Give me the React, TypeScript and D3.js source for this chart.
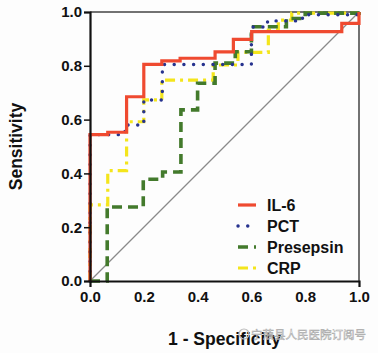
import React, { useEffect, useRef } from "react";
import * as d3 from "d3";

// ROC corner points (1 - specificity, sensitivity)
const il6Fpr = [0, 0, 0.066, 0.136, 0.2, 0.267, 0.335, 0.465, 0.533, 0.601, 0.936, 1.0];
const il6Tpr = [0, 0.544, 0.553, 0.685, 0.805, 0.818, 0.828, 0.852, 0.898, 0.927, 0.958, 1.0];

const pctFpr = [0, 0, 0.13, 0.2, 0.269, 0.6, 0.66, 0.79, 1.0];
const pctTpr = [0, 0.544, 0.58, 0.673, 0.805, 0.944, 0.967, 0.99, 1.0];

const presepsinFpr = [0, 0.064, 0.198, 0.27, 0.338, 0.4, 0.465, 0.54, 0.6, 0.73, 0.8, 1.0];
const presepsinTpr = [0, 0.275, 0.378, 0.405, 0.636, 0.735, 0.81, 0.852, 0.945, 0.976, 0.996, 1.0];

const crpFpr = [0, 0, 0.066, 0.136, 0.2, 0.267, 0.458, 0.55, 0.663, 0.7, 0.75, 1.0];
const crpTpr = [0, 0.283, 0.41, 0.592, 0.673, 0.747, 0.803, 0.85, 0.933, 0.97, 0.996, 1.0];

const seriesNames = ["IL-6", "PCT", "Presepsin", "CRP"];
const tickValues = [0, 0.2, 0.4, 0.6, 0.8, 1.0];

export default function App() {
  const svgRef = useRef<SVGSVGElement>(null);

  useEffect(() => {
    const width = 378;
    const height = 353;
    const margin = { top: 12, right: 19, bottom: 72, left: 90 };
    const font = "Arial, 'Liberation Sans', sans-serif";

    const svg = d3.select(svgRef.current).attr("width", width).attr("height", height);
    svg.selectAll("*").remove();
    svg.append("rect").attr("width", width).attr("height", height).attr("fill", "#fdfdfd");

    const x = d3.scaleLinear().domain([0, 1]).range([margin.left, width - margin.right]);
    const y = d3.scaleLinear().domain([0, 1]).range([height - margin.bottom, margin.top]);

    // top and right frame
    svg
      .append("path")
      .attr("d", `M${x(0)},${y(1)}H${x(1)}V${y(0)}`)
      .attr("fill", "none")
      .attr("stroke", "#444")
      .attr("stroke-width", 1.5);

    // reference diagonal
    svg
      .append("line")
      .attr("x1", x(0))
      .attr("y1", y(0))
      .attr("x2", x(1))
      .attr("y2", y(1))
      .attr("stroke", "#8a8a8a")
      .attr("stroke-width", 1.2);

    const styles = [
      { fpr: il6Fpr, tpr: il6Tpr, color: "#ef4a30", width: 3.2, dash: null, cap: "butt" },
      { fpr: pctFpr, tpr: pctTpr, color: "#27338f", width: 3.4, dash: "0.1 9.6", cap: "round" },
      { fpr: presepsinFpr, tpr: presepsinTpr, color: "#437a2c", width: 3.6, dash: "10 6", cap: "butt" },
      { fpr: crpFpr, tpr: crpTpr, color: "#f4e51c", width: 3.2, dash: "10 5 3 5", cap: "butt" },
    ];

    const line = d3
      .line<[number, number]>()
      .x((d) => x(d[0]))
      .y((d) => y(d[1]))
      .curve(d3.curveStepAfter);

    const drawOrder = [3, 2, 1, 0];
    drawOrder.forEach((i) => {
      const s = styles[i];
      const pts = s.fpr.map((f, j) => [f, s.tpr[j]] as [number, number]);
      svg
        .append("path")
        .attr("d", line(pts))
        .attr("fill", "none")
        .attr("stroke", s.color)
        .attr("stroke-width", s.width)
        .attr("stroke-dasharray", s.dash)
        .attr("stroke-linecap", s.cap);
    });

    // axes
    const xAxis = svg
      .append("g")
      .attr("transform", `translate(0,${y(0)})`)
      .call(d3.axisBottom(x).tickValues(tickValues).tickSize(6).tickFormat(d3.format(".1f")));
    const yAxis = svg
      .append("g")
      .attr("transform", `translate(${x(0)},0)`)
      .call(d3.axisLeft(y).tickValues(tickValues).tickSize(6).tickFormat(d3.format(".1f")));

    [xAxis, yAxis].forEach((g) => {
      g.select(".domain").attr("stroke", "#111").attr("stroke-width", 2.2);
      g.selectAll(".tick line").attr("stroke", "#111").attr("stroke-width", 1.5);
      g.selectAll(".tick text")
        .attr("font-family", font)
        .attr("font-size", 15)
        .attr("font-weight", "bold")
        .attr("fill", "#111");
    });
    xAxis.selectAll(".tick line").attr("y2", 0);
    xAxis.selectAll(".tick text").attr("y", 10);
    yAxis.selectAll(".tick text").attr("x", -8);

    svg
      .append("text")
      .attr("x", x(0.5))
      .attr("y", 345)
      .attr("text-anchor", "middle")
      .attr("font-family", font)
      .attr("font-size", 17.5)
      .attr("font-weight", "bold")
      .attr("fill", "#111")
      .text("1 - Specificity");

    svg
      .append("text")
      .attr("transform", `translate(22,${y(0.5)}) rotate(-90)`)
      .attr("text-anchor", "middle")
      .attr("font-family", font)
      .attr("font-size", 17.5)
      .attr("font-weight", "bold")
      .attr("fill", "#111")
      .text("Sensitivity");

    // legend
    const legend = svg.append("g");
    seriesNames.forEach((name, i) => {
      const s = styles[i];
      const ly = 205 + i * 21;
      legend
        .append("line")
        .attr("x1", 238)
        .attr("x2", 256)
        .attr("y1", ly)
        .attr("y2", ly)
        .attr("stroke", s.color)
        .attr("stroke-width", s.width)
        .attr("stroke-dasharray", s.dash)
        .attr("stroke-linecap", s.cap);
      legend
        .append("text")
        .attr("x", 267)
        .attr("y", ly + 6)
        .attr("font-family", font)
        .attr("font-size", 16)
        .attr("font-weight", "bold")
        .attr("fill", "#111")
        .text(name);
    });

    // watermark
    svg
      .append("circle")
      .attr("cx", 244)
      .attr("cy", 334)
      .attr("r", 5)
      .attr("fill", "none")
      .attr("stroke", "#bbb")
      .attr("stroke-width", 1.2);
    svg
      .append("text")
      .attr("x", 251)
      .attr("y", 339)
      .attr("font-family", "'Noto Sans CJK SC', sans-serif")
      .attr("font-size", 11.5)
      .attr("fill", "#ffffff")
      .attr("stroke", "#9a9a9a")
      .attr("stroke-width", 0.5)
      .attr("opacity", 0.9)
      .text("宁蒗县人民医院订阅号");
  }, []);

  return (
    <div style={{ position: "fixed", left: 0, top: 0 }}>
      <svg ref={svgRef} style={{ display: "block" }}></svg>
    </div>
  );
}
